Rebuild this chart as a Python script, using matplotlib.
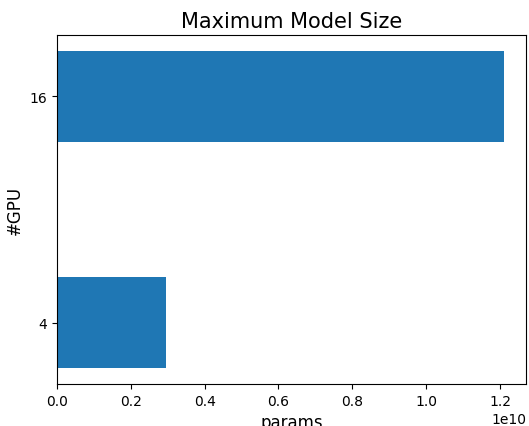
import numpy as np
import matplotlib.pyplot as plt

# max model size (params) per GPU count
gpus = ['4', '16']
params = [2.95e9, 1.21e10]

fig = plt.figure(figsize=(5.29, 4.27), dpi=100)
ax = fig.add_axes([57/529, 1 - 385/427, (526 - 57)/529, (385 - 36)/427])
ax.barh(gpus, params, height=0.4, color='#1f77b4')
ax.set_title('Maximum Model Size', fontsize=15)
ax.set_xlabel('params', fontsize=12)
ax.set_ylabel('#GPU', fontsize=12)

fig.savefig('out.png', dpi=100)
